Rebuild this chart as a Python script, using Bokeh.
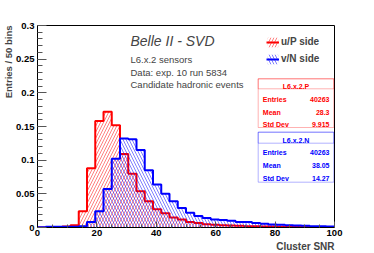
import numpy as np
from bokeh.plotting import figure
from bokeh.models import (Range1d, FixedTicker, Label, BoxAnnotation, Legend,
                          LegendItem, Title)
from bokeh.embed import file_html
from bokeh.resources import INLINE

# ---------------- data ----------------
n_bins = 36
x_min, x_max = 0.0, 100.0
red_p = [0.0, 0.0003, 0.0008, 0.0015, 0.0035, 0.024, 0.088, 0.158, 0.172, 0.152,
         0.109, 0.080, 0.054, 0.039, 0.027, 0.021, 0.015, 0.012, 0.008, 0.0065,
         0.005, 0.004, 0.0035, 0.003, 0.0025, 0.002, 0.002, 0.0015, 0.0015, 0.001,
         0.001, 0.001, 0.0008, 0.0006, 0.0005, 0.0005]
blue_n = [0.0005, 0.001, 0.001, 0.001, 0.0012, 0.002, 0.008, 0.024, 0.057, 0.102,
          0.132, 0.131, 0.115, 0.085, 0.064, 0.050, 0.039, 0.029, 0.022, 0.017,
          0.014, 0.012, 0.011, 0.010, 0.008, 0.008, 0.0065, 0.0055, 0.0045, 0.004,
          0.0035, 0.003, 0.0025, 0.002, 0.002, 0.0015]
series_labels = ["u/P side", "v/N side"]
x_ticks = [0, 20, 40, 60, 80, 100]
x_minor = list(range(0, 101, 5))
y_ticks = [0, 0.05, 0.1, 0.15, 0.2, 0.25, 0.3]
y_tick_labels = ["0", "0.05", "0.1", "0.15", "0.2", "0.25", "0.3"]
y_minor = [round(0.01 * i, 2) for i in range(31)]
stats_p_title = "L6.x.2.P"
stats_p = [("Entries", "40263"), ("Mean", "28.3"), ("Std Dev", "9.915")]
stats_n_title = "L6.x.2.N"
stats_n = [("Entries", "40263"), ("Mean", "38.05"), ("Std Dev", "14.27")]
title_lines = ["L6.x.2 sensors", "Data: exp. 10 run 5834", "Candidate hadronic events"]

edges = list(np.linspace(x_min, x_max, n_bins + 1))

# ---------------- layout ----------------
W, H = 374, 253
FL, FR, FT, FB = 37, 334, 25, 227
FONT = "Liberation Sans"
RED, BLUE = "#ff0000", "#0000ff"

p = figure(width=W, height=H, x_range=Range1d(0, 100), y_range=Range1d(0, 0.3),
           output_backend="svg", toolbar_location=None,
           min_border_left=FL, min_border_right=W - FR,
           min_border_top=FT, min_border_bottom=H - FB)
p.xgrid.visible = False
p.ygrid.visible = False
p.outline_line_color = "black"
p.background_fill_color = "white"
p.border_fill_color = "white"

SX0, SX1, SY0, SY1 = FL, FR, FT, FB


def dx(px):
    return (px - SX0) / (SX1 - SX0) * 100.0


def dy(py):
    return (SY1 - py) / (SY1 - SY0) * 0.3


# axes
p.xaxis.ticker = FixedTicker(ticks=x_ticks, minor_ticks=x_minor)
p.yaxis.ticker = FixedTicker(ticks=y_ticks, minor_ticks=y_minor)
p.yaxis.major_label_overrides = dict(zip(y_ticks, y_tick_labels))
for ax in p.axis:
    ax.major_tick_out = 0
    ax.minor_tick_out = 0
    ax.major_tick_line_color = "#555555"
    ax.minor_tick_line_color = "#555555"
    ax.axis_line_color = "black"
    ax.major_label_text_font = FONT
    ax.major_label_text_font_style = "bold"
    ax.major_label_text_font_size = "9.5px"
    ax.major_label_text_color = "black"
p.xaxis.major_tick_in = 6
p.xaxis.minor_tick_in = 3
p.xaxis.major_label_standoff = 2
p.yaxis.major_tick_in = 9
p.yaxis.minor_tick_in = 5
p.yaxis.major_label_standoff = 3

# axis titles (as side titles so they are not clipped)
p.add_layout(Title(text="Entries / 50 bins", align="right", text_font=FONT,
                   text_font_style="bold", text_font_size="9.5px",
                   standoff=0, offset=0), "left")
p.add_layout(Title(text="Cluster SNR", align="right", text_font=FONT,
                   text_font_style="bold", text_font_size="10px",
                   standoff=0, offset=0), "below")

# histograms
def hist(vals, color, pattern):
    q = p.quad(left=edges[:-1], right=edges[1:], bottom=0, top=vals,
               fill_alpha=0, line_alpha=0,
               hatch_pattern=pattern, hatch_color=color, hatch_alpha=0.5,
               hatch_scale=6, hatch_weight=1)
    xs = [edges[0]] + edges
    ys = [0.0] + list(vals) + [vals[-1]]
    l = p.step(x=xs, y=ys, mode="after", line_color=color, line_width=2)
    return q, l

rq, rl = hist(red_p, RED, "/")
bq, bl = hist(blue_n, BLUE, "\\")

legend = Legend(items=[LegendItem(label=series_labels[0], renderers=[rq, rl]),
                       LegendItem(label=series_labels[1], renderers=[bq, bl])],
                location=(266 - SX0, SY1 - 64.5),
                border_line_color=None, background_fill_alpha=0,
                padding=0, margin=0, spacing=5, glyph_width=13, glyph_height=12,
                label_height=12, label_standoff=2,
                label_text_font=FONT, label_text_font_style="bold",
                label_text_font_size="10px")
p.add_layout(legend)

# titles
p.add_layout(Label(x=dx(130), y=dy(40), text="Belle II - SVD", text_font=FONT,
                   text_font_style="italic", text_font_size="14px",
                   text_align="left", text_baseline="alphabetic"))
for t, py in zip(title_lines, [58.5, 71.5, 83.5]):
    p.add_layout(Label(x=dx(130), y=dy(py), text=t, text_font=FONT,
                       text_font_size="9.5px", text_align="left",
                       text_baseline="alphabetic"))

# stats boxes
def stats_box(title, rows, color, top, bottom, title_line, title_base, row_bases):
    left, right = 257.7, 333.3
    p.add_layout(BoxAnnotation(left=dx(left), right=dx(right), top=dy(top), bottom=dy(bottom),
                               fill_alpha=0, line_color=color, line_width=1))
    p.add_layout(BoxAnnotation(left=dx(left), right=dx(right), top=dy(top), bottom=dy(title_line),
                               fill_alpha=0, line_color=color, line_width=1))
    p.add_layout(Label(x=dx((left + right) / 2), y=dy(title_base), text=title,
                       text_font=FONT, text_font_style="bold", text_font_size="7px",
                       text_color=color, text_align="center", text_baseline="alphabetic"))
    for (name, val), py in zip(rows, row_bases):
        p.add_layout(Label(x=dx(262.3), y=dy(py), text=name, text_font=FONT,
                           text_font_style="bold", text_font_size="7px", text_color=color,
                           text_align="left", text_baseline="alphabetic"))
        p.add_layout(Label(x=dx(329), y=dy(py), text=val, text_font=FONT,
                           text_font_style="bold", text_font_size="7px", text_color=color,
                           text_align="right", text_baseline="alphabetic"))

stats_box(stats_p_title, stats_p, RED, 78.3, 127, 88.3, 86, [99, 111.5, 124])
stats_box(stats_n_title, stats_n, BLUE, 131.7, 181.7, 142.7, 139.5, [152.3, 165, 177.7])

open("out.html", "w").write(file_html(p, INLINE))
